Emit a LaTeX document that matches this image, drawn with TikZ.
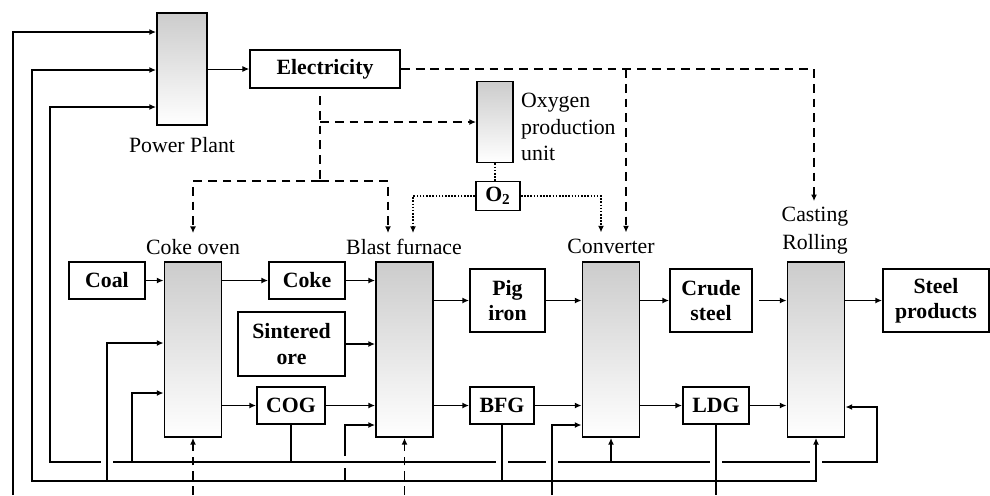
\documentclass[tikz,border=0pt]{standalone}
\usepackage{fontspec}
\setmainfont{Liberation Serif}
\usetikzlibrary{arrows.meta,positioning}
\begin{document}
\begin{tikzpicture}[x=0.02cm,y=-0.02cm,>={Latex[length=3.8pt,width=3.4pt]},
    font=\fontsize{12.4}{15}\selectfont,
    unit/.style={draw,line width=1.1pt,top color=black!20,bottom color=white,
      minimum width=1.14cm,minimum height=3.5cm,inner sep=0pt},
    item/.style={draw,line width=1.1pt,font=\fontsize{12.4}{14.5}\selectfont\bfseries,
      align=center,inner sep=0pt,minimum height=0.74cm},
    pipe/.style={line width=0.8pt},
    flow/.style={pipe,->},
    elec/.style={line width=1.1pt,dash pattern=on 5pt off 3.4pt,->},
    oxy/.style={line width=0.9pt,dash pattern=on 0.9pt off 0.9pt,->}]
  \useasboundingbox (0,0) rectangle (990,495);
  % Power plant and electricity
  \node[unit,minimum width=1cm,minimum height=2.24cm] (pp) at (182,69) {};
  \node (pplabel) at (182,145) {Power Plant};
  \node[item,minimum width=3cm,minimum height=0.76cm] (elec) at (325,69) {Electricity};
  % Oxygen production unit
  \node[unit,minimum width=0.72cm,minimum height=1.62cm] (ox) at (495,122) {};
  \node[anchor=west,align=left] (oxlabel) at (515,127) {Oxygen\\production\\unit};
  \node[item,minimum width=0.88cm,minimum height=0.58cm] (o2) at (498,196) {O\textsubscript{2}};
  % Process units
  \node[unit] (oven) at (193,349.5) {};
  \node[unit] (bf) at (404.5,349.5) {};
  \node[unit] (conv) at (611,349.5) {};
  \node[unit] (cast) at (816,349.5) {};
  \node (ovenlabel) at (193,247) {Coke oven};
  \node (bflabel) at (404,247) {Blast furnace};
  \node (convlabel) at (611,246) {Converter};
  \node[align=center,font=\fontsize{12.4}{16}\selectfont] (castlabel) at (815,231) {Casting\\Rolling};
  % Materials and gases
  \node[item,minimum width=1.52cm] (coal) at (107,280.5) {Coal};
  \node[item,minimum width=1.52cm] (cokebox) at (307,280.5) {Coke};
  \node[item,minimum width=2.14cm,minimum height=1.28cm] (ore) at (291.5,344) {Sintered\\ore};
  \node[item,minimum width=1.36cm] (cog) at (291,405.5) {COG};
  \node[item,minimum width=1.5cm,minimum height=1.26cm] (pig) at (507.5,300.5) {Pig\\iron};
  \node[item,minimum width=1.28cm] (bfg) at (502,405.5) {BFG};
  \node[item,minimum width=1.64cm,minimum height=1.26cm] (crude) at (711,300.5) {Crude\\steel};
  \node[item,minimum width=1.32cm] (ldg) at (716,405.5) {LDG};
  \node[item,minimum width=2.12cm,minimum height=1.26cm] (steel) at (936,300.5) {Steel\\products};
  % Main material flow
  \foreach \a/\b in {coal/oven,cokebox/bf,ore/bf,cog/bf,pig/conv,bfg/conv,ldg/cast}
    \draw[flow] (\a.east) -- (\a.east -| \b.west);
  \foreach \a/\b in {oven/cokebox,oven/cog,bf/pig,bf/bfg,conv/crude,conv/ldg,cast/steel}
    \draw[flow] (\a.east |- \b.west) -- (\b.west);
  \draw[flow,shorten <=3.5pt] (crude.east) -- (crude.east -| cast.west);
  % Electricity supply
  \coordinate (eltap) at (626,69);
  \coordinate (eldrop) at (320,96);
  \coordinate (elsplit) at (320,181);
  \draw[pipe,line width=0.5pt,->] (pp.east) -- (elec.west);
  \draw[elec] (elec.east) -| ([xshift=-0.02cm]castlabel.north);
  \draw[elec] (eltap) -- (eltap |- convlabel.north);
  \draw[elec,-] (eldrop) -- (elsplit);
  \draw[elec] (eldrop |- ox.west) -- (ox.west);
  \draw[elec] (elsplit) -| (ovenlabel.north);
  \draw[elec] (elsplit) -| ([xshift=-0.32cm]bflabel.north);
  % Oxygen supply
  \draw[oxy,-] (ox.south) -- (ox.south |- o2.north);
  \draw[oxy] (o2.east) -| ([xshift=-0.2cm]convlabel.north);
  \draw[oxy] (o2.west) -| ([xshift=0.18cm]bflabel.north);
  % Gas network
  \coordinate (cogL) at (50,462);
  \coordinate (cogR) at (877,462);
  \coordinate (bfgL) at (32,481);
  \coordinate (edge) at (0,495);
  \draw[pipe,<->] (pp.west |- 0,107) -| (cogL) -- (cogR) |- (cast.east |- 0,407);
  \foreach \x in {107,502,552,716,816}
    \fill[white] (\x-6,459) rectangle (\x+6,465);
  \draw[pipe,<->] (pp.west |- 0,70) -| (bfgL) -| (cast.south);
  \draw[pipe,->] (edge -| 13,0) |- (pp.west |- 0,32);
  \draw[flow] (cogL -| 132,0) |- (oven.west |- 0,393);
  \draw[pipe] (cog.south) -- (cog.south |- cogL);
  \draw[flow] (conv.south |- cogL) -- (conv.south);
  \draw[flow] (bfgL -| 107,0) |- (oven.west |- 0,343);
  \draw[pipe] (bfg.south) -- (bfg.south |- bfgL);
  \draw[pipe] (bfgL -| 345,0) -- (345,468);
  \draw[flow] (345,456) |- (bf.west |- 0,425);
  % Lines leaving at the bottom
  \draw[flow] (edge -| 552,0) |- (conv.west |- 0,425);
  \draw[pipe] (ldg.south) -- (ldg.south |- edge);
  \draw[elec] (oven.south |- edge) -- (oven.south);
  \draw[elec] (bf.south |- edge) -- (bf.south);
\end{tikzpicture}
\end{document}
